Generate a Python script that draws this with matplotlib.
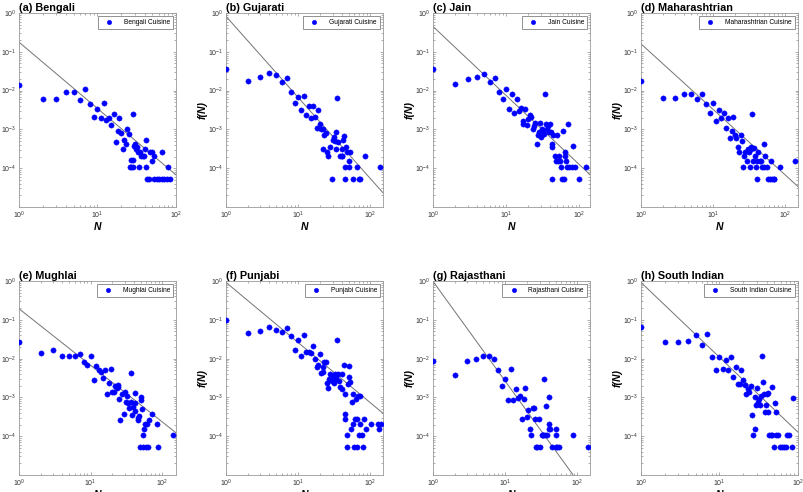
import numpy as np
import matplotlib
matplotlib.use("Agg")
import matplotlib.pyplot as plt

plt.rcParams['font.family'] = ['Liberation Sans', 'DejaVu Sans']
plt.rcParams['mathtext.default'] = 'regular'

# cuisine names, panel letters
cuisines = ["Bengali", "Gujarati", "Jain", "Maharashtrian",
            "Mughlai", "Punjabi", "Rajasthani", "South Indian"]
letters = ["a", "b", "c", "d", "e", "f", "g", "h"]

# (N, f(N)) points
bengali = [(1, 1.4e-2), (2, 5.9e-3), (3, 5.9e-3), (4, 9.1e-3), (5, 9.1e-3), (6, 5.6e-3), (7, 1.1e-2),
           (8, 4.6e-3), (9, 2.1e-3), (10, 3.4e-3), (11, 2.0e-3), (12, 4.8e-3), (13, 1.7e-3), (14, 2.0e-3),
           (15, 1.3e-3), (16, 2.5e-3), (17, 4.6e-4), (18, 8.9e-4), (19, 2.0e-3), (20, 8.0e-4), (21, 3.2e-4),
           (22, 5.3e-4), (23, 4.3e-4), (24, 1.0e-3), (25, 7.5e-4), (26, 1.05e-4), (27, 1.6e-4), (27, 1.05e-4),
           (28, 1.6e-4), (28, 1.05e-4), (28, 2.5e-3), (29, 3.7e-4), (30, 4.2e-4), (31, 3.1e-4), (32, 3.6e-4),
           (33, 2.6e-4), (34, 1.05e-4), (35, 2.6e-4), (36, 2.1e-4), (38, 2.1e-4), (39, 2.1e-4), (40, 3.1e-4),
           (41, 1.05e-4), (42, 5.3e-4), (43, 5.2e-5), (45, 5.2e-5), (47, 2.6e-4), (50, 2.6e-4), (50, 1.55e-4),
           (52, 2.1e-4), (53, 5.2e-5), (57, 5.2e-5), (61, 5.2e-5), (66, 5.2e-5), (67, 2.6e-4), (70, 5.2e-5),
           (76, 5.2e-5), (80, 1.05e-4), (85, 5.2e-5)]
gujarati = [(1, 3.5e-2), (2, 1.8e-2), (3, 2.3e-2), (4, 2.9e-2), (5, 2.5e-2), (6, 1.7e-2), (7, 2.1e-2),
            (8, 9.3e-3), (9, 4.9e-3), (10, 6.9e-3), (11, 3.1e-3), (12, 7.4e-3), (13, 2.4e-3), (14, 3.9e-3),
            (15, 2.0e-3), (16, 3.9e-3), (17, 2.1e-3), (18, 1.1e-3), (19, 3.1e-3), (20, 1.4e-3), (21, 1.0e-3),
            (22, 3.2e-4), (22, 1.05e-3), (23, 7.0e-4), (24, 8.0e-4), (25, 2.6e-4), (26, 2.1e-4), (28, 3.6e-4),
            (29, 5.2e-5), (30, 5.3e-4), (31, 6.3e-4), (32, 5.0e-4), (33, 3.1e-4), (34, 8.8e-4), (35, 6.6e-3),
            (36, 4.8e-4), (38, 2.1e-4), (40, 2.1e-4), (40, 3.1e-4), (41, 2.1e-4), (42, 5.3e-4), (43, 6.9e-4),
            (44, 1.05e-4), (45, 5.2e-5), (46, 3.6e-4), (48, 2.6e-4), (50, 1.55e-4), (51, 1.05e-4), (53, 2.6e-4),
            (57, 5.2e-5), (65, 1.05e-4), (69, 5.2e-5), (72, 5.2e-5), (84, 2.1e-4), (138, 1.05e-4)]
jain = [(1, 3.6e-2), (2, 1.45e-2), (3, 2.0e-2), (4, 2.2e-2), (5, 2.7e-2), (6, 1.7e-2), (7, 2.1e-2),
        (8, 9.0e-3), (9, 5.9e-3), (10, 1.07e-2), (11, 3.4e-3), (12, 8.0e-3), (13, 2.7e-3), (14, 6.0e-3),
        (15, 3.0e-3), (16, 3.6e-3), (17, 1.4e-3), (17, 1.65e-3), (18, 3.4e-3), (19, 1.3e-3), (20, 1.9e-3),
        (21, 2.4e-3), (22, 2.1e-3), (23, 1.0e-3), (24, 1.2e-3), (25, 1.5e-3), (26, 4.3e-4), (27, 7.0e-4),
        (28, 8.5e-4), (29, 1.5e-3), (30, 6.4e-4), (31, 1.0e-3), (32, 8.5e-4), (33, 7.8e-4), (34, 8.0e-3),
        (35, 1.4e-3), (36, 1.0e-3), (37, 1.2e-3), (38, 8.5e-4), (40, 1.4e-3), (41, 8.5e-4), (42, 4.3e-4),
        (42, 5.2e-5), (43, 3.6e-4), (44, 7.0e-4), (46, 2.1e-4), (48, 1.55e-4), (49, 7.0e-4), (51, 1.55e-4),
        (53, 2.1e-4), (55, 1.55e-4), (57, 1.05e-4), (58, 5.2e-5), (59, 9.0e-4), (62, 5.2e-5), (63, 2.1e-4),
        (64, 2.6e-4), (65, 1.55e-4), (67, 1.05e-4), (69, 1.4e-3), (73, 1.05e-4), (79, 1.05e-4), (81, 3.7e-4),
        (86, 1.05e-4), (98, 5.2e-5), (122, 1.05e-4)]
maharashtrian = [(1, 1.75e-2), (2, 6.6e-3), (3, 6.3e-3), (4, 8.3e-3), (5, 8.0e-3), (6, 6.0e-3), (7, 8.3e-3),
                 (8, 4.4e-3), (9, 2.6e-3), (10, 4.9e-3), (11, 1.6e-3), (12, 3.1e-3), (13, 2.0e-3), (14, 2.7e-3),
                 (15, 1.1e-3), (16, 2.0e-3), (17, 5.9e-4), (18, 9.3e-4), (19, 2.1e-3), (20, 7.3e-4), (21, 5.9e-4),
                 (22, 3.6e-4), (23, 2.6e-4), (24, 7.2e-4), (25, 5.1e-4), (26, 1.05e-4), (27, 2.1e-4), (28, 2.6e-4),
                 (29, 1.55e-4), (30, 3.1e-4), (31, 2.6e-4), (32, 1.05e-4), (33, 3.1e-4), (34, 3.6e-4), (35, 2.5e-3),
                 (36, 1.55e-4), (37, 3.3e-4), (38, 2.1e-4), (39, 1.05e-4), (40, 1.55e-4), (41, 5.2e-5), (42, 2.6e-4),
                 (44, 1.55e-4), (46, 1.55e-4), (48, 1.05e-4), (51, 4.3e-4), (51, 1.05e-4), (53, 2.1e-4),
                 (55, 1.05e-4), (57, 5.2e-5), (62, 5.2e-5), (63, 1.55e-4), (66, 5.2e-5), (69, 5.2e-5), (70, 5.2e-5),
                 (85, 1.05e-4), (137, 1.55e-4)]
mughlai = [(1, 2.7e-2), (2, 1.4e-2), (3, 1.65e-2), (4, 1.16e-2), (5, 1.2e-2), (6, 1.2e-2), (7, 1.35e-2),
           (8, 8.0e-3), (9, 6.8e-3), (10, 1.16e-2), (11, 2.8e-3), (12, 6.6e-3), (13, 5.0e-3), (14, 4.4e-3),
           (15, 3.2e-3), (16, 5.0e-3), (17, 1.25e-3), (18, 2.3e-3), (19, 5.5e-3), (20, 1.4e-3), (21, 1.4e-3),
           (22, 2.0e-3), (23, 1.7e-3), (24, 2.1e-3), (24, 1.8e-3), (25, 9.2e-4), (26, 2.6e-4), (27, 1.2e-3),
           (29, 3.8e-4), (30, 1.4e-3), (31, 7.7e-4), (32, 1.1e-3), (33, 7.3e-4), (34, 5.3e-4), (36, 4.3e-3),
           (37, 7.7e-4), (38, 3.6e-4), (39, 5.5e-4), (41, 4.5e-4), (42, 7.3e-4), (42, 1.3e-3), (45, 3.0e-4),
           (46, 2.6e-4), (47, 3.3e-4), (49, 5.2e-5), (50, 1.0e-3), (51, 8.5e-4), (52, 4.9e-4), (53, 1.05e-4),
           (54, 5.2e-5), (55, 1.55e-4), (57, 2.1e-4), (59, 5.2e-5), (61, 2.1e-4), (63, 5.2e-5), (66, 2.6e-4),
           (72, 3.7e-4), (84, 2.1e-4), (87, 5.2e-5), (141, 1.05e-4)]
punjabi = [(1, 1.0e-1), (2, 4.5e-2), (3, 5.1e-2), (4, 6.5e-2), (5, 5.4e-2), (6, 4.9e-2), (7, 6.2e-2),
           (8, 3.8e-2), (9, 1.66e-2), (10, 3.1e-2), (11, 1.15e-2), (12, 4.0e-2), (13, 1.5e-2), (14, 1.45e-2),
           (15, 1.4e-2), (16, 2.1e-2), (17, 9.5e-3), (18, 6.0e-3), (19, 6.8e-3), (20, 1.3e-2), (21, 4.2e-3),
           (22, 6.0e-3), (22, 4.4e-3), (23, 8.3e-3), (24, 8.3e-3), (25, 2.4e-3), (26, 1.7e-3), (27, 2.9e-3),
           (28, 3.9e-3), (29, 2.6e-3), (30, 3.6e-3), (31, 2.4e-3), (32, 4.0e-3), (33, 3.1e-3), (34, 2.9e-3),
           (35, 3.1e-2), (36, 3.9e-3), (37, 2.7e-3), (38, 1.8e-3), (40, 3.9e-3), (41, 1.6e-3), (43, 6.8e-3),
           (44, 3.8e-4), (45, 1.2e-3), (45, 2.7e-4), (47, 5.2e-5), (48, 1.05e-4), (49, 2.2e-3), (50, 6.5e-3),
           (51, 3.3e-3), (52, 2.5e-3), (54, 1.55e-4), (55, 7.6e-4), (57, 1.2e-3), (58, 2.1e-4), (60, 5.2e-5),
           (61, 2.7e-4), (63, 9.0e-4), (65, 5.2e-5), (66, 2.7e-4), (68, 1.06e-3), (69, 1.05e-4), (71, 2.1e-4),
           (72, 1.1e-3), (76, 1.05e-4), (79, 5.2e-5), (82, 2.7e-4), (86, 1.55e-4), (102, 2.1e-4), (127, 2.1e-4),
           (132, 1.55e-4), (141, 2.1e-4)]
rajasthani = [(1, 8.9e-3), (2, 3.7e-3), (3, 8.9e-3), (4, 9.8e-3), (5, 1.2e-2), (6, 1.2e-2), (7, 1.0e-2),
              (8, 5.0e-3), (9, 2.0e-3), (10, 2.9e-3), (11, 8.5e-4), (12, 5.3e-3), (13, 8.5e-4), (14, 1.6e-3),
              (15, 9.8e-4), (16, 1.1e-3), (17, 2.7e-4), (18, 9.0e-4), (19, 1.75e-3), (20, 3.2e-4), (21, 4.7e-4),
              (22, 1.55e-4), (23, 1.05e-4), (24, 5.3e-4), (25, 5.3e-4), (26, 2.7e-4), (27, 5.2e-5), (28, 5.2e-5),
              (29, 2.7e-4), (30, 5.2e-5), (32, 1.05e-4), (33, 1.05e-4), (34, 1.05e-4), (35, 2.9e-3), (36, 1.05e-4),
              (37, 5.9e-4), (38, 1.05e-4), (40, 1.0e-3), (40, 1.55e-4), (41, 2.1e-4), (42, 1.55e-4), (44, 5.2e-5),
              (50, 1.55e-4), (51, 5.2e-5), (51, 1.05e-4), (53, 5.2e-5), (56, 5.2e-5), (86, 1.05e-4), (140, 5.2e-5)]
south_indian = [(1, 6.6e-2), (2, 2.6e-2), (3, 2.6e-2), (4, 2.8e-2), (5, 4.1e-2), (6, 2.2e-2), (7, 4.2e-2),
                (8, 1.1e-2), (9, 5.2e-3), (10, 1.1e-2), (11, 5.3e-3), (12, 9.3e-3), (13, 5.0e-3), (14, 1.1e-2),
                (15, 3.3e-3), (16, 6.2e-3), (17, 2.2e-3), (18, 2.2e-3), (19, 5.2e-3), (20, 2.8e-3), (21, 2.1e-3),
                (22, 1.2e-3), (23, 1.6e-3), (24, 1.4e-3), (25, 2.0e-3), (26, 3.6e-4), (27, 1.05e-4), (28, 1.0e-3),
                (28, 1.55e-4), (29, 6.5e-4), (30, 1.7e-3), (31, 7.7e-4), (32, 9.0e-4), (33, 6.5e-4), (34, 1.1e-3),
                (35, 1.2e-2), (36, 2.5e-3), (37, 1.2e-3), (38, 4.2e-4), (39, 6.3e-4), (40, 1.2e-3), (41, 1.3e-3),
                (42, 4.2e-4), (43, 1.05e-4), (45, 1.05e-4), (46, 1.8e-3), (47, 1.05e-4), (49, 5.2e-5), (51, 7.2e-4),
                (52, 1.05e-4), (53, 4.2e-4), (55, 1.05e-4), (59, 5.2e-5), (63, 5.2e-5), (66, 5.2e-5), (70, 5.2e-5),
                (73, 1.05e-4), (77, 1.05e-4), (84, 5.2e-5), (86, 9.5e-4)]

# power-law fit lines f = a * N^-b
fit_a = [0.177, 0.82, 0.45, 0.16, 0.193, 0.92, 0.98, 0.92]
fit_b = [1.71, 2.09, 1.78, 1.69, 1.46, 1.55, 2.57, 1.93]
x_max = [100, 150, 140, 150, 155, 150, 150, 100]

all_data = [bengali, gujarati, jain, maharashtrian, mughlai, punjabi, rajasthani, south_indian]

fig = plt.figure(figsize=(8.04, 4.92), dpi=100)
W, H = 804.0, 492.0
lefts = [19, 226, 433, 641]
tops = [13, 281]
aw, ah = 157, 194

for i, name in enumerate(cuisines):
    r, c = divmod(i, 4)
    ax = fig.add_axes([lefts[c] / W, 1 - (tops[r] + ah) / H, aw / W, ah / H])
    n, f = zip(*all_data[i])
    ax.loglog(n, f, 'o', color='blue', ms=3.8, mec='blue', mew=0.3,
              label=name + ' Cuisine', zorder=3)
    xs = np.array([1.0, x_max[i]])
    ax.plot(xs, fit_a[i] * xs ** (-fit_b[i]), color='0.45', lw=0.7, zorder=2)
    ax.set_xlim(1, x_max[i])
    ax.set_ylim(1e-5, 1)
    ax.set_yticks([1e-4, 1e-3, 1e-2, 1e-1, 1])
    ax.set_xticks([1, 10, 100])
    ax.tick_params(which='both', direction='in', top=True, right=True,
                   colors='0.55', labelcolor='0.2', labelsize=5, width=0.5, pad=2)
    ax.tick_params(which='major', length=2.5)
    ax.tick_params(which='minor', length=1.4)
    for s in ax.spines.values():
        s.set_color('0.6')
        s.set_linewidth(0.6)
    ax.set_title('(%s) %s' % (letters[i], name), loc='left', fontsize=7.8,
                 fontweight='bold', pad=1.5)
    ax.set_xlabel('N', fontsize=7.5, fontstyle='italic', fontweight='bold', labelpad=1)
    ax.set_ylabel('f(N)', fontsize=7.5, fontstyle='italic', fontweight='bold')
    ax.yaxis.set_label_coords(-0.12, 0.5)
    leg = ax.legend(loc='upper right', fontsize=4.8, fancybox=False, edgecolor='0.5',
                    framealpha=1, numpoints=1, handlelength=2.5, handletextpad=1.0,
                    borderaxespad=0.5, borderpad=0.4, markerscale=0.85)
    leg.get_frame().set_linewidth(0.6)

fig.savefig('out.png', dpi=100)
